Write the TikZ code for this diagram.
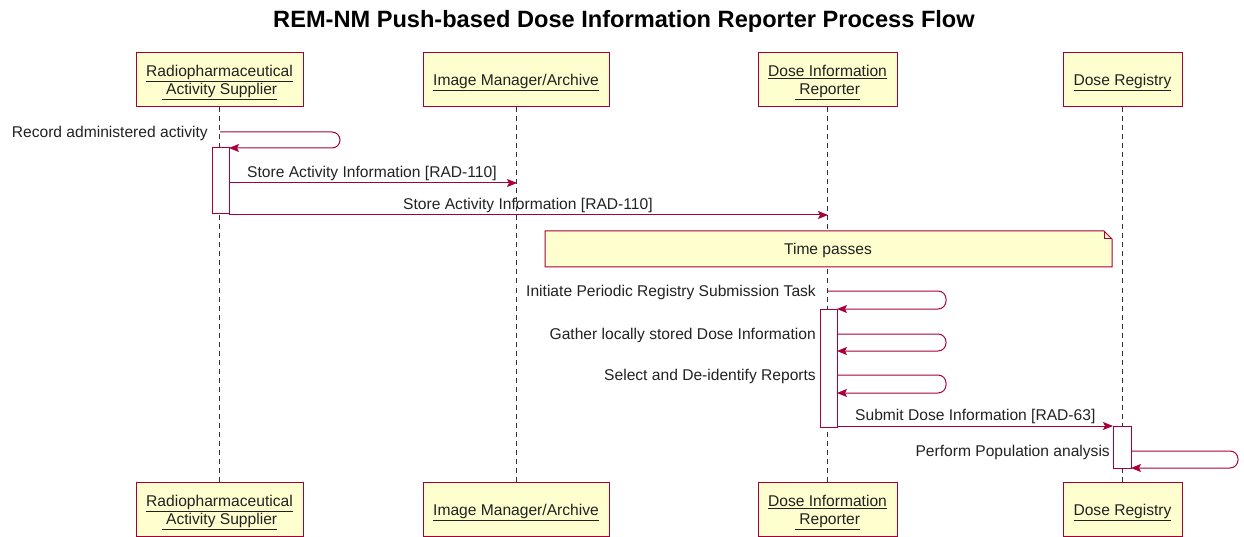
\documentclass[tikz,border=0pt]{standalone}
\usepackage{fontspec}
\setmainfont{Liberation Sans}
\usetikzlibrary{arrows.meta}
\definecolor{umlred}{HTML}{A80036}
\definecolor{umlfill}{HTML}{FEFECE}
\definecolor{txt}{HTML}{222222}
\begin{document}
\begin{tikzpicture}[x=1pt,y=-1pt,
  part/.style={draw=umlred,fill=umlfill,line width=1pt,minimum height=54pt,align=center,inner sep=0pt,
    font=\fontsize{15.6}{18}\selectfont,text=txt},
  oneline/.style={text height=17pt},
  twoline/.style={text height=35pt},
  life/.style={line width=0.8pt,black!80,dash pattern=on 5pt off 4pt},
  msg/.style={color=umlred,line width=1pt,-{Stealth[length=10pt,width=8pt,inset=2pt]}},
  loop/.style={msg,rounded corners=8pt},
  act/.style={draw=umlred,fill=white,line width=1pt},
  lbl/.style={font=\fontsize{15.6}{18}\selectfont,text=txt,inner sep=0pt},
  notebox/.style={draw=umlred,fill=umlfill,line width=1pt}]
\useasboundingbox (0,0) rectangle (1244,537);
\node[font=\bfseries\fontsize{23.6}{28}\selectfont,text=black] (title) at (624,21) {REM-NM Push-based Dose Information Reporter Process Flow};
% participants top
\node[part,twoline,minimum width=167pt] (ras) at (219.5,80) {\underline{Radiopharmaceutical}\\\underline{ Activity Supplier}};
\node[part,oneline,minimum width=186pt] (ima) at (516,80) {\underline{Image Manager/Archive}};
\node[part,twoline,minimum width=139pt] (dir) at (827.5,80) {\underline{Dose Information}\\\underline{ Reporter}};
\node[part,oneline,minimum width=119pt] (reg) at (1122.5,80) {\underline{Dose Registry}};
% participants bottom
\node[part,twoline,minimum width=167pt] (ras2) at (219.5,509.5) {\underline{Radiopharmaceutical}\\\underline{ Activity Supplier}};
\node[part,oneline,minimum width=186pt] (ima2) at (516,509.5) {\underline{Image Manager/Archive}};
\node[part,twoline,minimum width=139pt] (dir2) at (827.5,509.5) {\underline{Dose Information}\\\underline{ Reporter}};
\node[part,oneline,minimum width=119pt] (reg2) at (1122.5,509.5) {\underline{Dose Registry}};
% lifelines
\draw[life] (ras) -- (ras2);
\draw[life] (ima) -- (ima2);
\draw[life] (dir) -- (dir2);
\draw[life] (reg) -- (reg2);
% activations
\draw[act] (212,148) rectangle (229,214);
\draw[act] (820,309) rectangle (837,427);
\draw[act] (1113,426) rectangle (1131,468);
% named coordinates
\coordinate (r1) at (220,132);
\coordinate (r1b) at (229,148);
\coordinate (ra) at (229,183);
\coordinate (ia) at (517,183);
\coordinate (rb) at (229,215);
\coordinate (db) at (828,215);
\coordinate (d1) at (828,291);
\coordinate (d1b) at (837,309);
\coordinate (d2) at (837,334);
\coordinate (d2b) at (837,351);
\coordinate (d3) at (837,375);
\coordinate (d3b) at (837,393);
\coordinate (d4) at (837,426);
\coordinate (g4) at (1113,426);
\coordinate (g5) at (1131,451);
\coordinate (g5b) at (1131,468);
% messages
\draw[loop] (r1) -- (340,132) |- (r1b);
\node[lbl,anchor=east] (l1) at (208,133) {Record administered activity};
\draw[msg] (ra) -- (ia);
\node[lbl,anchor=south west] (l2) at (247,181) {Store Activity Information [RAD-110]};
\draw[msg] (rb) -- (db);
\node[lbl,anchor=south west] (l3) at (403,213) {Store Activity Information [RAD-110]};
% note
\draw[notebox] (545,231) -- (1104,231) -- (1112,239) -- (1112,267) -- (545,267) -- cycle;
\draw[umlred,line width=1pt] (1104,231) -- (1104,239) -- (1112,239);
\node[lbl] (note) at (828,250) {Time passes};
\draw[loop] (d1) -- (946,291) |- (d1b);
\node[lbl,anchor=east] (l4) at (816,292) {Initiate Periodic Registry Submission Task};
\draw[loop] (d2) -- (946,334) |- (d2b);
\node[lbl,anchor=east] (l5) at (816,335) {Gather locally stored Dose Information};
\draw[loop] (d3) -- (946,375) |- (d3b);
\node[lbl,anchor=east] (l6) at (816,376) {Select and De-identify Reports};
\draw[msg] (d4) -- (g4);
\node[lbl,anchor=south west] (l7) at (855,424) {Submit Dose Information [RAD-63]};
\draw[loop] (g5) -- (1238,451) |- (g5b);
\node[lbl,anchor=east] (l8) at (1110,452) {Perform Population analysis};
\end{tikzpicture}
\end{document}
